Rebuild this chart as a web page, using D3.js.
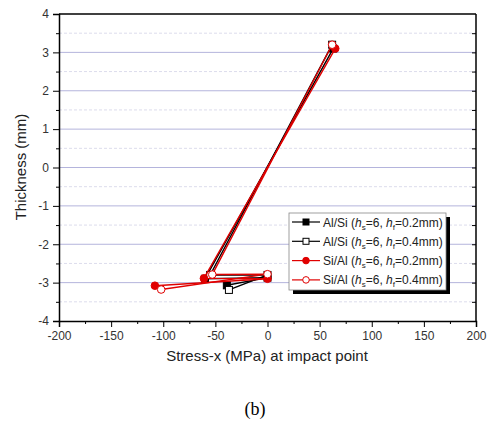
<!DOCTYPE html>
<html><head><meta charset="utf-8">
<script src="https://cdn.jsdelivr.net/npm/d3@7"></script>
<style>body{margin:0;background:#fff}</style>
</head><body>
<svg id="c" width="489" height="424"></svg>
<script>
const xTicks = [-200,-150,-100,-50,0,50,100,150,200];
const yTicks = [-4,-3,-2,-1,0,1,2,3,4];
const seriesNames = ["Al/Si","Al/Si","Si/Al","Si/Al"];
const seriesHf = ["0.2","0.4","0.2","0.4"];
const sAlSi02 = [[63,3.1],[-60,-2.9],[0,-2.87],[-39,-3.07]];
const sAlSi04 = [[62,3.2],[-55,-2.8],[0,-2.8],[-37,-3.19]];
const sSiAl02 = [[65,3.1],[-61,-2.89],[0,-2.9],[-108,-3.08]];
const sSiAl04 = [[62,3.2],[-53,-2.79],[0,-2.78],[-102,-3.18]];
const seriesData = [sAlSi02, sAlSi04, sSiAl02, sSiAl04];
const seriesColor = ["#000","#000","#e00000","#e00000"];
const seriesShape = ["square","square","circle","circle"];
const seriesFilled = [true,false,true,false];

const svg = d3.select("#c");
const L=59,R=476,T=14,B=321;
const x = d3.scaleLinear().domain([-200,200]).range([L,R]);
const y = d3.scaleLinear().domain([-4,4]).range([B,T]);
const font = "Arial, 'Liberation Sans', sans-serif";
const fmt = d => String(d);

// grid
const minorY = d3.range(-3.5,4,1);
svg.append("g").selectAll("line").data(minorY).join("line")
  .attr("x1",L).attr("x2",R).attr("y1",d=>y(d)).attr("y2",d=>y(d))
  .attr("stroke","#dcdcec").attr("stroke-dasharray","3,2").attr("stroke-width",1);
svg.append("g").selectAll("line").data(yTicks.filter(d=>d>-4&&d<4)).join("line")
  .attr("x1",L).attr("x2",R).attr("y1",d=>y(d)).attr("y2",d=>y(d))
  .attr("stroke","#b4b4dc").attr("stroke-width",1);

// axes
const xAxis = d3.axisBottom(x).tickValues(xTicks).tickFormat(fmt).tickSize(6).tickPadding(4);
const gx = svg.append("g").attr("transform",`translate(0,${B})`).call(xAxis);
gx.selectAll("line").attr("stroke","#000");
gx.selectAll("text").attr("font-family",font).attr("font-size",12).attr("fill","#333");
gx.select(".domain").attr("stroke","#000").attr("stroke-width",1.5);
const gxm = svg.append("g").attr("transform",`translate(0,${B})`).call(d3.axisBottom(x).tickValues(d3.range(-175,200,50)).tickSize(3).tickFormat(""));
gxm.select(".domain").remove();

const yAxis = d3.axisLeft(y).tickValues(yTicks).tickFormat(fmt).tickSize(6).tickPadding(4);
const gy = svg.append("g").attr("transform",`translate(${L},0)`).call(yAxis);
gy.selectAll("text").attr("font-family",font).attr("font-size",12).attr("fill","#333");
gy.select(".domain").attr("stroke","#000").attr("stroke-width",1.5);
const gym = svg.append("g").attr("transform",`translate(${L},0)`).call(d3.axisLeft(y).tickValues(minorY).tickSize(3).tickFormat(""));
gym.select(".domain").remove();

// right axis inward ticks
const gr = svg.append("g").attr("transform",`translate(${R},0)`).call(d3.axisLeft(y).tickValues(d3.range(-3.5,4,0.5)).tickSize(4).tickFormat(""));
gr.select(".domain").remove();
svg.append("line").attr("x1",R).attr("x2",R).attr("y1",T).attr("y2",B).attr("stroke","#000").attr("stroke-width",1.5);
svg.append("line").attr("x1",L).attr("x2",R).attr("y1",T).attr("y2",T).attr("stroke","#000").attr("stroke-width",1.5);

// series
const line = d3.line().x(d=>x(d[0])).y(d=>y(d[1]));
function marker(g, d, i){
  const px=x(d[0]), py=y(d[1]);
  const fill = seriesFilled[i]?seriesColor[i]:"#fff";
  if(seriesShape[i]==="square"){
    g.append("rect").attr("x",px-3.5).attr("y",py-3.5).attr("width",7).attr("height",7)
      .attr("fill",fill).attr("stroke",seriesColor[i]).attr("stroke-width",1);
  } else {
    g.append("circle").attr("cx",px).attr("cy",py).attr("r",3.8)
      .attr("fill",fill).attr("stroke",seriesColor[i]).attr("stroke-width",1);
  }
}
seriesData.forEach((s,i)=>{
  const g = svg.append("g");
  g.append("path").datum(s).attr("d",line).attr("fill","none").attr("stroke",seriesColor[i]).attr("stroke-width",1.4);
  s.forEach(d=>marker(g,d,i));
});

// legend
const lx=289, ly=213, lw=157, lh=77;
svg.append("rect").attr("x",lx+4).attr("y",ly+4).attr("width",lw).attr("height",lh).attr("fill","#000");
svg.append("rect").attr("x",lx).attr("y",ly).attr("width",lw).attr("height",lh).attr("fill","#fff").attr("stroke","#888").attr("stroke-width",0.8);
seriesNames.forEach((n,i)=>{
  const yy = ly+9+i*19.3;
  const g = svg.append("g");
  g.append("line").attr("x1",lx+3).attr("x2",lx+31).attr("y1",yy).attr("y2",yy).attr("stroke",seriesColor[i]).attr("stroke-width",1.2);
  const px=lx+17;
  const fill = seriesFilled[i]?seriesColor[i]:"#fff";
  if(seriesShape[i]==="square") g.append("rect").attr("x",px-3).attr("y",yy-3).attr("width",6).attr("height",6).attr("fill",fill).attr("stroke",seriesColor[i]);
  else g.append("circle").attr("cx",px).attr("cy",yy).attr("r",3.3).attr("fill",fill).attr("stroke",seriesColor[i]);
  const t = g.append("text").attr("x",lx+34).attr("y",yy+4.5).attr("font-family",font).attr("font-size",12).attr("fill","#222");
  t.append("tspan").text(n+" (");
  t.append("tspan").attr("font-style","italic").text("h");
  t.append("tspan").attr("font-size",8).attr("dy",3).text("s");
  t.append("tspan").attr("dy",-3).text("=6, ");
  t.append("tspan").attr("font-style","italic").text("h");
  t.append("tspan").attr("font-size",8).attr("dy",3).text("f");
  t.append("tspan").attr("dy",-3).text("="+seriesHf[i]+"mm)");
});

// labels
svg.append("text").attr("x",267).attr("y",361).attr("text-anchor","middle").attr("font-family",font).attr("font-size",15).attr("fill","#222").text("Stress-x (MPa) at impact point");
svg.append("text").attr("transform","translate(26,167) rotate(-90)").attr("text-anchor","middle").attr("font-family",font).attr("font-size",15).attr("fill","#222").text("Thickness (mm)");
svg.append("text").attr("x",255).attr("y",415).attr("text-anchor","middle").attr("font-family","'Times New Roman','Liberation Serif',serif").attr("font-size",18).attr("fill","#000").text("(b)");
</script>
</body></html>
